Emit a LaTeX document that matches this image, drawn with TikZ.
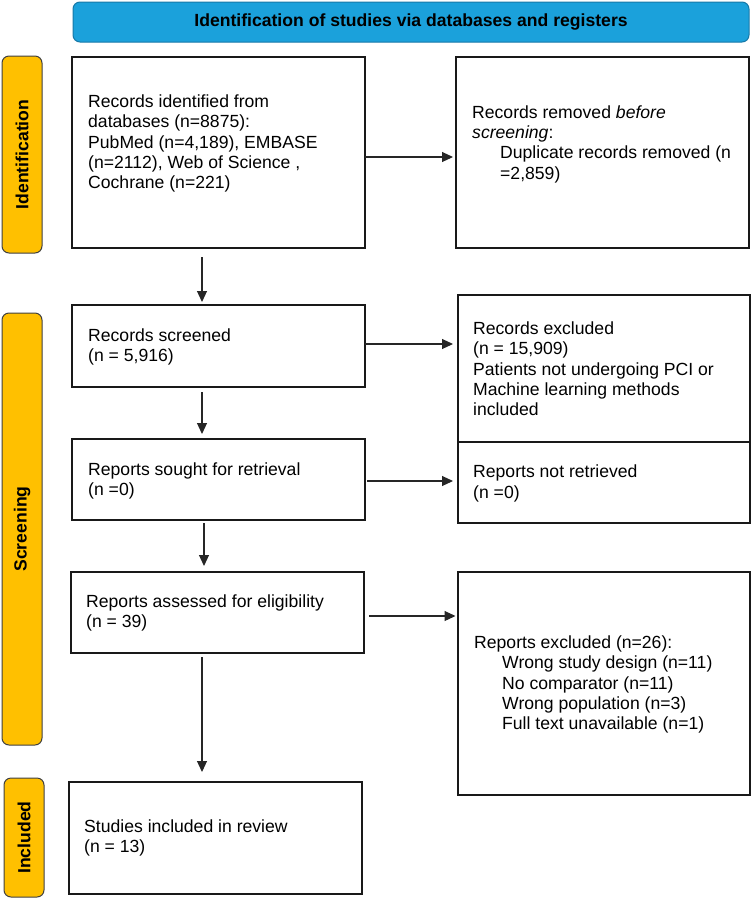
\documentclass[tikz,border=0pt]{standalone}
\usepackage{fontspec}
\setmainfont{Liberation Sans}
\usetikzlibrary{arrows.meta}
\definecolor{hdrblue}{HTML}{1BA1DB}
\definecolor{hdredge}{HTML}{1779A8}
\definecolor{phase}{HTML}{FFC000}
\begin{document}
\begin{tikzpicture}[x=1pt,y=-1pt,
  box/.style={draw=black!90,line width=1.8pt,inner sep=0pt,outer sep=0pt,anchor=north west},
  txt/.style={anchor=west,align=left,inner sep=0pt,font=\fontsize{17.6}{20.3}\selectfont},
  arr/.style={draw=black!85,line width=1.1pt,-{Triangle[length=11pt,width=10pt]}},
  phasebox/.style={draw=black!75,line width=1pt,fill=phase,rounded corners=7pt,inner sep=0pt,outer sep=0pt,anchor=north west},
  phasetxt/.style={rotate=90,font=\fontsize{17.6}{20}\selectfont\bfseries},
  hdr/.style={draw=hdredge,line width=1pt,fill=hdrblue,rounded corners=7pt,inner sep=0pt,outer sep=0pt,anchor=north west,font=\fontsize{17.6}{20}\selectfont\bfseries}
]
\useasboundingbox (0,0) rectangle (752,898);

% header
\node[hdr,minimum width=676pt,minimum height=40pt] (head) at (73,2) {Identification of studies via databases and registers};

% phase bars
\node[phasebox,minimum width=40pt,minimum height=197pt] (pid) at (2,56) {};
\node[phasetxt] (tid) at (pid.center) {Identification};
\node[phasebox,minimum width=40pt,minimum height=432pt] (pscr) at (2,313) {};
\node[phasetxt] (tscr) at (pscr.center) {Screening};
\node[phasebox,minimum width=40pt,minimum height=119pt] (pinc) at (4,778) {};
\node[phasetxt] (tinc) at (pinc.center) {Included};

% boxes
\node[box,minimum width=293pt,minimum height=191pt] (b1) at (72,57) {};
\node[box,minimum width=293pt,minimum height=191pt] (b2) at (456,57) {};
\node[box,minimum width=293pt,minimum height=82pt] (b3) at (72,305) {};
\node[box,minimum width=292pt,minimum height=147pt] (b4) at (458,295) {};
\node[box,minimum width=292pt,minimum height=81pt] (b5) at (458,442) {};
\node[box,minimum width=293pt,minimum height=81pt] (b6) at (72,439) {};
\node[box,minimum width=293pt,minimum height=81pt] (b7) at (71,572) {};
\node[box,minimum width=292pt,minimum height=223pt] (b8) at (458,572) {};
\node[box,minimum width=293pt,minimum height=112pt] (b9) at (69,782) {};

% texts
\node[txt] (t1) at (88,143.5) {Records identified from\\databases (n=8875):\\PubMed (n=4,189), EMBASE\\(n=2112), Web of Science ,\\Cochrane (n=221)};
\node[txt] (t2) at (472,144) {Records removed \textit{before}\\\textit{screening}:\\\hspace*{28pt}Duplicate records removed (n\\\hspace*{28pt}=2,859)};
\node[txt] (t3) at (88,347) {Records screened\\(n = 5,916)};
\node[txt] (t4) at (473,369) {Records excluded\\(n = 15,909)\\Patients not undergoing PCI or\\Machine learning methods\\included};
\node[txt] (t5) at (473,483.5) {Reports not retrieved\\(n =0)};
\node[txt] (t6) at (88,481) {Reports sought for retrieval\\(n =0)};
\node[txt] (t7) at (86,613) {Reports assessed for eligibility\\(n = 39)};
\node[txt] (t8) at (474,684.5) {Reports excluded (n=26):\\\hspace*{28pt}Wrong study design (n=11)\\\hspace*{28pt}No comparator (n=11)\\\hspace*{28pt}Wrong population (n=3)\\\hspace*{28pt}Full text unavailable (n=1)};
\node[txt] (t9) at (84,838) {Studies included in review\\(n = 13)};

% vertical arrows
\draw[arr] ([shift={(130,9)}]b1.south west) -- ([shift={(130,-3)}]b3.north west);
\draw[arr] ([shift={(130,5)}]b3.south west) -- ([shift={(130,-5)}]b6.north west);
\draw[arr] ([shift={(132,3)}]b6.south west) -- ([shift={(133,-6)}]b7.north west);
\draw[arr] ([shift={(131,4)}]b7.south west) -- ([shift={(133,-10)}]b9.north west);

% horizontal arrows
\draw[arr] ([shift={(0,4.5)}]b1.east) -- ([shift={(-3,4.5)}]b2.west);
\draw[arr] ([shift={(0,-2)}]b3.east) -- ([shift={(-5,-24.5)}]b4.west);
\draw[arr] ([shift={(2,1.5)}]b6.east) -- ([shift={(-5,-1.5)}]b5.west);
\draw[arr] ([shift={(5,3.5)}]b7.east) -- ([shift={(-2.5,-67.5)}]b8.west);
\end{tikzpicture}
\end{document}
